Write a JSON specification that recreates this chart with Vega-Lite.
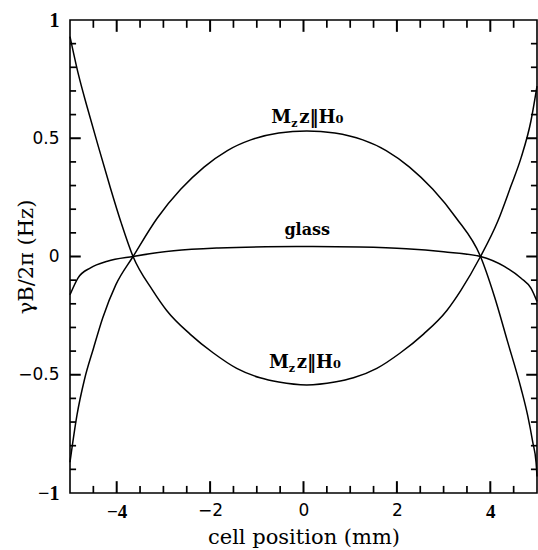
{
  "$schema": "https://vega.github.io/schema/vega-lite/v6.json",
  "autosize": {"type": "none"},
  "padding": {"left": 70, "top": 20, "right": 1, "bottom": 57},
  "width": 467,
  "height": 473,
  "background": "white",
  "config": {
    "view": {"stroke": "black", "strokeWidth": 1.6},
    "axis": {"grid": false, "domain": false, "ticks": false, "labelColor": "black", "titleColor": "black", "titleFontWeight": "normal"}
  },
  "datasets": {
    "curves": [
      {"c": "B", "x": -5.0, "y": -0.87}, {"c": "B", "x": -4.85, "y": -0.67}, {"c": "B", "x": -4.69, "y": -0.52}, {"c": "B", "x": -4.5, "y": -0.39}, {"c": "B", "x": -4.3, "y": -0.26}, {"c": "B", "x": -4.02, "y": -0.12}, {"c": "B", "x": -3.65, "y": 0.0}, {"c": "B", "x": -3.13, "y": 0.163}, {"c": "B", "x": -2.63, "y": 0.284}, {"c": "B", "x": -2.13, "y": 0.378}, {"c": "B", "x": -1.63, "y": 0.448}, {"c": "B", "x": -1.13, "y": 0.493}, {"c": "B", "x": -0.53, "y": 0.522}, {"c": "B", "x": 0.07, "y": 0.531}, {"c": "B", "x": 0.67, "y": 0.522}, {"c": "B", "x": 1.27, "y": 0.493}, {"c": "B", "x": 1.77, "y": 0.448}, {"c": "B", "x": 2.27, "y": 0.378}, {"c": "B", "x": 2.77, "y": 0.284}, {"c": "B", "x": 3.27, "y": 0.163}, {"c": "B", "x": 3.79, "y": 0.0}, {"c": "B", "x": 4.09, "y": -0.17}, {"c": "B", "x": 4.37, "y": -0.36}, {"c": "B", "x": 4.66, "y": -0.559}, {"c": "B", "x": 4.8, "y": -0.672}, {"c": "B", "x": 4.91, "y": -0.786}, {"c": "B", "x": 4.98, "y": -0.871}, {"c": "B", "x": 5.0, "y": -0.93},
      {"c": "A", "x": -5.0, "y": 0.93}, {"c": "A", "x": -4.82, "y": 0.77}, {"c": "A", "x": -4.63, "y": 0.63}, {"c": "A", "x": -4.4, "y": 0.47}, {"c": "A", "x": -4.15, "y": 0.3}, {"c": "A", "x": -3.9, "y": 0.14}, {"c": "A", "x": -3.65, "y": 0.0}, {"c": "A", "x": -3.23, "y": -0.143}, {"c": "A", "x": -2.93, "y": -0.228}, {"c": "A", "x": -2.43, "y": -0.328}, {"c": "A", "x": -1.93, "y": -0.408}, {"c": "A", "x": -1.43, "y": -0.473}, {"c": "A", "x": -0.93, "y": -0.513}, {"c": "A", "x": -0.53, "y": -0.531}, {"c": "A", "x": 0.07, "y": -0.543}, {"c": "A", "x": 0.67, "y": -0.531}, {"c": "A", "x": 1.07, "y": -0.513}, {"c": "A", "x": 1.57, "y": -0.473}, {"c": "A", "x": 2.07, "y": -0.408}, {"c": "A", "x": 2.57, "y": -0.328}, {"c": "A", "x": 3.07, "y": -0.228}, {"c": "A", "x": 3.37, "y": -0.143}, {"c": "A", "x": 3.79, "y": 0.0}, {"c": "A", "x": 4.16, "y": 0.149}, {"c": "A", "x": 4.44, "y": 0.297}, {"c": "A", "x": 4.66, "y": 0.418}, {"c": "A", "x": 4.87, "y": 0.573}, {"c": "A", "x": 5.0, "y": 0.72},
      {"c": "G", "x": -5.0, "y": -0.162}, {"c": "G", "x": -4.83, "y": -0.091}, {"c": "G", "x": -4.56, "y": -0.048}, {"c": "G", "x": -4.2, "y": -0.02}, {"c": "G", "x": -3.65, "y": 0.0}, {"c": "G", "x": -2.78, "y": 0.024}, {"c": "G", "x": -1.82, "y": 0.036}, {"c": "G", "x": -0.8, "y": 0.041}, {"c": "G", "x": 0.2, "y": 0.042}, {"c": "G", "x": 1.2, "y": 0.04}, {"c": "G", "x": 2.2, "y": 0.033}, {"c": "G", "x": 3.0, "y": 0.02}, {"c": "G", "x": 3.79, "y": 0.0}, {"c": "G", "x": 4.3, "y": -0.042}, {"c": "G", "x": 4.66, "y": -0.092}, {"c": "G", "x": 4.87, "y": -0.134}, {"c": "G", "x": 5.0, "y": -0.19}
    ],
    "mlab": [{"x": 0.1, "y": 0.565}, {"x": 0.05, "y": -0.47}],
    "glab": [{"x": 0.08, "y": 0.09, "t": "glass"}]
  },
  "layer": [
    {
      "data": {"name": "curves"},
      "mark": {"type": "line", "color": "black", "strokeWidth": 1.5, "interpolate": "monotone"},
      "encoding": {
        "x": {"field": "x", "type": "quantitative", "scale": {"domain": [-5, 5], "nice": false, "zero": false},
          "axis": {"orient": "bottom", "values": [-4, -2, 0, 2, 4], "format": "~g", "labelPadding": 9,
            "labelFont": {"condition": {"test": "abs(datum.value) == 4", "value": "Liberation Serif"}, "value": "DejaVu Sans"},
            "labelFontWeight": {"condition": {"test": "abs(datum.value) == 4", "value": "bold"}, "value": "normal"},
            "labelFontSize": {"condition": {"test": "abs(datum.value) == 4", "value": 19}, "value": 17},
            "title": "cell position (mm)", "titleFont": "DejaVu Serif", "titleFontSize": 21, "titleY": 33, "titleBaseline": "top"}},
        "y": {"field": "y", "type": "quantitative", "scale": {"domain": [-1, 1], "nice": false, "zero": false},
          "axis": {"orient": "left", "values": [-1, -0.5, 0, 0.5, 1], "format": "~g", "labelPadding": 11,
            "labelFont": {"condition": {"test": "abs(datum.value) == 1", "value": "Liberation Serif"}, "value": "DejaVu Sans"},
            "labelFontWeight": {"condition": {"test": "abs(datum.value) == 1", "value": "bold"}, "value": "normal"},
            "labelFontSize": {"condition": {"test": "abs(datum.value) == 1", "value": 20}, "value": 17},
            "title": "γB/2π (Hz)", "titleFont": "DejaVu Serif", "titleFontSize": 21, "titleX": -34, "titleBaseline": "bottom"}},
        "detail": {"field": "c"}
      }
    },
    {
      "data": {"values": [{"tv": -4}, {"tv": -2}, {"tv": 0}, {"tv": 2}, {"tv": 4}]},
      "mark": {"type": "rule", "color": "black", "strokeWidth": 2},
      "encoding": {"x": {"field": "tv", "type": "quantitative"}, "y": {"datum": -1, "type": "quantitative"}, "y2": {"datum": -0.95}}
    },
    {
      "data": {"values": [{"tv": -4.5}, {"tv": -3.5}, {"tv": -3}, {"tv": -2.5}, {"tv": -1.5}, {"tv": -1}, {"tv": -0.5}, {"tv": 0.5}, {"tv": 1}, {"tv": 1.5}, {"tv": 2.5}, {"tv": 3}, {"tv": 3.5}, {"tv": 4.5}]},
      "mark": {"type": "rule", "color": "black", "strokeWidth": 1.7},
      "encoding": {"x": {"field": "tv", "type": "quantitative"}, "y": {"datum": -1, "type": "quantitative"}, "y2": {"datum": -0.97}}
    },
    {
      "data": {"values": [{"tv": -4}, {"tv": -2}, {"tv": 0}, {"tv": 2}, {"tv": 4}]},
      "mark": {"type": "rule", "color": "black", "strokeWidth": 2},
      "encoding": {"x": {"field": "tv", "type": "quantitative"}, "y": {"datum": 1, "type": "quantitative"}, "y2": {"datum": 0.95}}
    },
    {
      "data": {"values": [{"tv": -4.5}, {"tv": -3.5}, {"tv": -3}, {"tv": -2.5}, {"tv": -1.5}, {"tv": -1}, {"tv": -0.5}, {"tv": 0.5}, {"tv": 1}, {"tv": 1.5}, {"tv": 2.5}, {"tv": 3}, {"tv": 3.5}, {"tv": 4.5}]},
      "mark": {"type": "rule", "color": "black", "strokeWidth": 1.7},
      "encoding": {"x": {"field": "tv", "type": "quantitative"}, "y": {"datum": 1, "type": "quantitative"}, "y2": {"datum": 0.967}}
    },
    {
      "data": {"values": [{"tv": -0.5}, {"tv": 0}, {"tv": 0.5}]},
      "mark": {"type": "rule", "color": "black", "strokeWidth": 2},
      "encoding": {"y": {"field": "tv", "type": "quantitative"}, "x": {"datum": -5, "type": "quantitative"}, "x2": {"datum": -4.77}}
    },
    {
      "data": {"values": [{"tv": -0.9}, {"tv": -0.8}, {"tv": -0.7}, {"tv": -0.6}, {"tv": -0.4}, {"tv": -0.3}, {"tv": -0.2}, {"tv": -0.1}, {"tv": 0.1}, {"tv": 0.2}, {"tv": 0.3}, {"tv": 0.4}, {"tv": 0.6}, {"tv": 0.7}, {"tv": 0.8}, {"tv": 0.9}]},
      "mark": {"type": "rule", "color": "black", "strokeWidth": 1.7},
      "encoding": {"y": {"field": "tv", "type": "quantitative"}, "x": {"datum": -5, "type": "quantitative"}, "x2": {"datum": -4.87}}
    },
    {
      "data": {"values": [{"tv": -0.5}, {"tv": 0}, {"tv": 0.5}]},
      "mark": {"type": "rule", "color": "black", "strokeWidth": 2},
      "encoding": {"y": {"field": "tv", "type": "quantitative"}, "x": {"datum": 5, "type": "quantitative"}, "x2": {"datum": 4.77}}
    },
    {
      "data": {"values": [{"tv": -0.9}, {"tv": -0.8}, {"tv": -0.7}, {"tv": -0.6}, {"tv": -0.4}, {"tv": -0.3}, {"tv": -0.2}, {"tv": -0.1}, {"tv": 0.1}, {"tv": 0.2}, {"tv": 0.3}, {"tv": 0.4}, {"tv": 0.6}, {"tv": 0.7}, {"tv": 0.8}, {"tv": 0.9}]},
      "mark": {"type": "rule", "color": "black", "strokeWidth": 1.7},
      "encoding": {"y": {"field": "tv", "type": "quantitative"}, "x": {"datum": 5, "type": "quantitative"}, "x2": {"datum": 4.87}}
    },
    {
      "data": {"name": "glab"},
      "mark": {"type": "text", "font": "DejaVu Serif", "fontSize": 16, "fontWeight": "bold", "align": "center", "baseline": "alphabetic", "color": "black"},
      "encoding": {
        "x": {"field": "x", "type": "quantitative"},
        "y": {"field": "y", "type": "quantitative"},
        "text": {"field": "t"}
      }
    },
    {
      "data": {"name": "mlab"},
      "mark": {"type": "text", "text": "M", "font": "DejaVu Serif", "fontSize": 18, "fontWeight": "bold", "align": "right", "baseline": "alphabetic", "dx": -17, "color": "black"},
      "encoding": {
        "x": {"field": "x", "type": "quantitative"},
        "y": {"field": "y", "type": "quantitative"}
      }
    },
    {
      "data": {"name": "mlab"},
      "mark": {"type": "text", "text": "z", "font": "DejaVu Serif", "fontSize": 11, "fontWeight": "bold", "align": "left", "baseline": "alphabetic", "dx": -17, "dy": 4, "color": "black"},
      "encoding": {
        "x": {"field": "x", "type": "quantitative"},
        "y": {"field": "y", "type": "quantitative"}
      }
    },
    {
      "data": {"name": "mlab"},
      "mark": {"type": "text", "text": "z‖H₀", "font": "DejaVu Serif", "fontSize": 18, "fontWeight": "bold", "align": "left", "baseline": "alphabetic", "dx": -9, "color": "black"},
      "encoding": {
        "x": {"field": "x", "type": "quantitative"},
        "y": {"field": "y", "type": "quantitative"}
      }
    }
  ]
}
